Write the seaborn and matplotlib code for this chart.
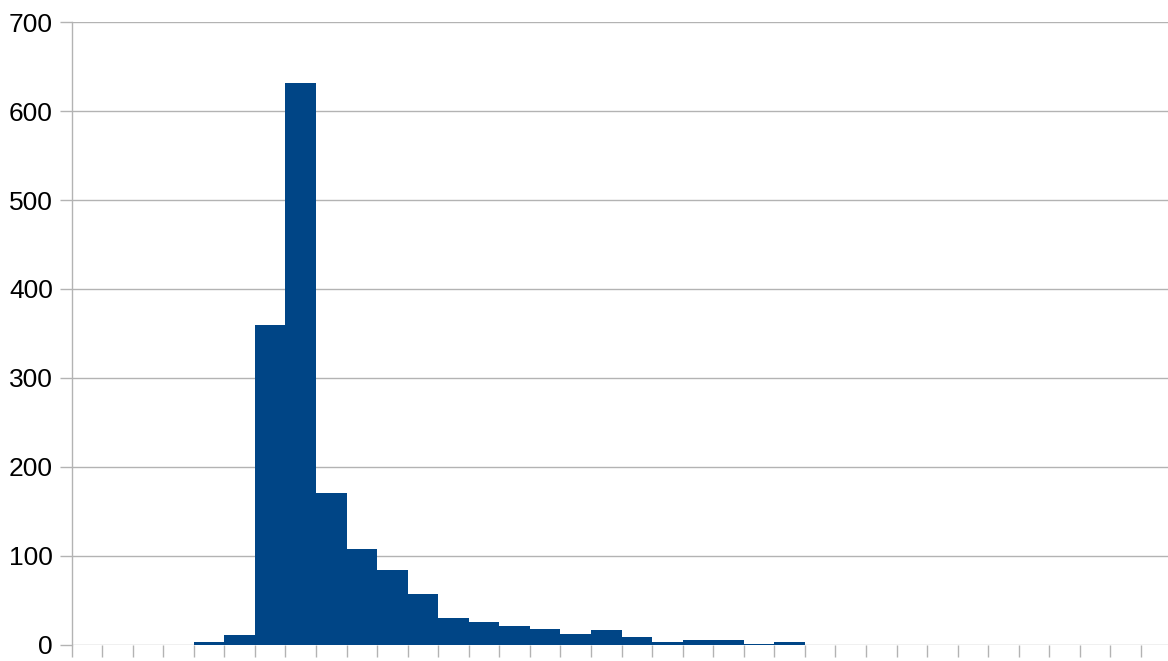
import numpy as np
import pandas as pd
import seaborn as sns
import matplotlib
matplotlib.use("Agg")
import matplotlib.pyplot as plt

# histogram counts per bin
bins = list(range(36))
counts = [0, 0, 0, 0, 3, 11, 360, 632, 171, 108, 84, 57, 30, 25, 21, 18, 12, 16,
          8, 3, 5, 5, 1, 3, 0, 0, 0, 0, 0, 0, 0, 0, 0, 0, 0, 0]
yticks = [0, 100, 200, 300, 400, 500, 600, 700]

bar_color = "#004586"
grid_color = "#b3b3b3"

sns.set_theme(style="white")
plt.rcParams['font.family'] = ['Liberation Sans', 'DejaVu Sans']

df = pd.DataFrame({"bin": bins, "count": counts})

W, H = 1168, 661
fig = plt.figure(figsize=(W / 100, H / 100), dpi=100)
# plot area runs slightly past the right edge of the image, like the reference
ax = fig.add_axes([71.5 / W, (H - 644.5) / H, (1171.6 - 71.5) / W, (644.5 - 22.3) / H])

sns.barplot(data=df, x="bin", y="count", color=bar_color, saturation=1,
            width=1, linewidth=0, ax=ax, zorder=3)

ax.set_xlim(-0.5, len(bins) - 0.5)
ax.set_ylim(0, 700)
ax.set_yticks(yticks)
ax.set_yticklabels([str(v) for v in yticks])
ax.set_xticks(np.arange(-0.5, len(bins), 1))
ax.set_xticklabels([])
ax.set_xlabel("")
ax.set_ylabel("")

ax.grid(axis="y", color=grid_color, linewidth=1, zorder=0)
ax.grid(axis="x", visible=False)
ax.set_axisbelow(True)

for side in ["top", "right", "bottom"]:
    ax.spines[side].set_visible(False)
ax.spines["left"].set_color(grid_color)
ax.spines["left"].set_linewidth(1)

ax.tick_params(axis="both", which="major", direction="out", length=8.5,
               width=1, color=grid_color, labelsize=19, labelcolor="black",
               left=True, bottom=True, pad=5)

fig.savefig("out.png", dpi=100)
